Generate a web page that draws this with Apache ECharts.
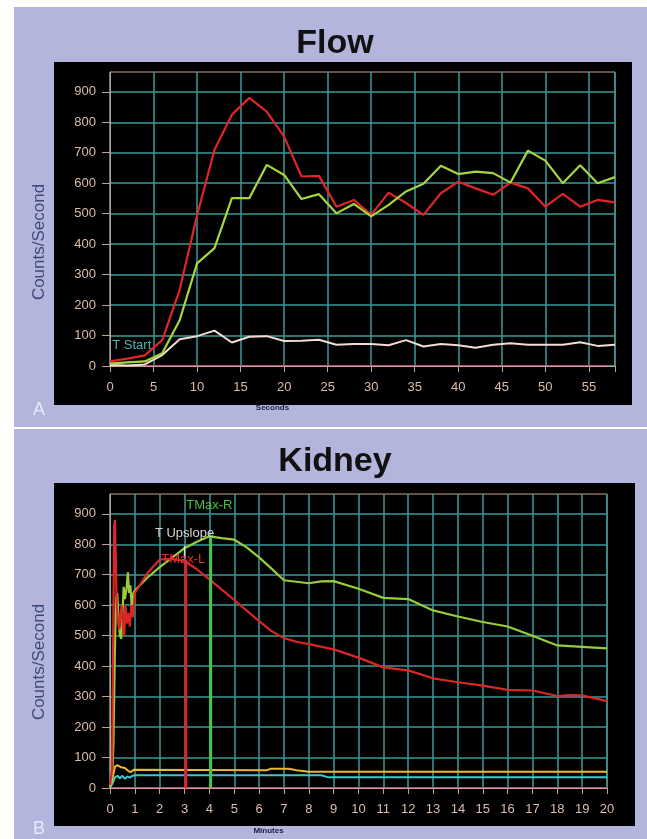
<!DOCTYPE html>
<html>
<head>
<meta charset="utf-8">
<script src="https://cdn.jsdelivr.net/npm/echarts@6/dist/echarts.min.js"></script>
<style>
  html, body { margin: 0; padding: 0; background: #ffffff; }
  #chart { width: 647px; height: 839px; }
</style>
</head>
<body>
<div id="chart"></div>
<script>
// ---------- Flow panel data (seconds) ----------
const flowSeconds = [0,2,4,6,8,10,12,14,16,18,20,22,24,26,28,30,32,34,36,38,40,42,44,46,48,50,52,54,56,58];
const flowRed   = [15,24,35,85,250,495,710,825,880,835,753,622,624,523,545,496,569,535,496,567,605,583,562,602,583,523,565,523,545,537];
const flowGreen = [8,12,15,42,150,337,387,551,551,660,627,548,564,501,532,491,529,573,598,657,630,638,633,602,707,674,600,659,600,620];
const flowWhite = [3,2,5,36,88,98,116,77,96,98,82,83,86,70,72,72,68,85,64,72,68,60,70,75,70,70,70,78,66,70];
const flowXTickStep = 5;
const tStart = [0.2, 69];

// ---------- Kidney panel data (minutes) ----------
const kidneyRed = [[0,10],[0.08,60],[0.13,500],[0.17,860],[0.2,880],[0.23,760],[0.27,600],[0.32,550],[0.37,520],[0.42,570],[0.47,600],[0.52,530],[0.57,500],[0.62,600],[0.68,540],[0.74,575],[0.8,530],[0.86,600],[0.92,560],[1.0,640],[1.5,705],[2,750],[2.5,752],[3,745],[3.5,718],[4,685],[5,617],[6,548],[6.5,515],[7,492],[7.5,480],[8,472],[9,455],[10,428],[11,396],[12,386],[13,360],[14,347],[15,336],[16,322],[17,320],[18,302],[18.5,305],[19,304],[20,285]];
const kidneyGreen = [[0,8],[0.08,20],[0.14,150],[0.19,420],[0.24,620],[0.29,640],[0.34,560],[0.4,500],[0.45,490],[0.5,570],[0.55,660],[0.6,620],[0.66,650],[0.72,708],[0.77,640],[0.82,665],[0.88,585],[0.94,640],[1.0,648],[1.5,690],[2,725],[2.5,756],[3,787],[3.5,808],[4,826],[4.5,820],[5,815],[5.5,790],[6,757],[6.5,720],[7,682],[7.5,677],[8,672],[8.5,678],[9,679],[10,654],[11,624],[12,620],[13,583],[14,563],[15,545],[16,530],[17,500],[18,468],[19,463],[20,458]];
const kidneyYellow = [[0,5],[0.1,30],[0.2,70],[0.3,75],[0.45,68],[0.6,66],[0.75,55],[0.85,52],[0.95,60],[1.0,58],[6.3,58],[6.45,63],[7.2,63],[7.5,58],[8.0,53],[20,53]];
const kidneyCyan = [[0,0],[0.1,15],[0.2,35],[0.3,40],[0.4,32],[0.5,40],[0.6,30],[0.7,38],[0.8,34],[0.9,40],[1.0,42],[8.5,42],[8.8,35],[20,35]];
const tMaxL = 3.05, tMaxLValue = 748;
const tMaxR = 4.05, tMaxRValue = 826;
const tUpslope = 3.0;
const tMaxRLabel = [4.0, 926];
const tUpslopeLabel = [3.0, 836];
const tMaxLLabel = [2.95, 750];

const yTicks = [0,100,200,300,400,500,600,700,800,900];

// ---------- styling ----------
const FONT = '"Liberation Sans", Arial, sans-serif';
const BORDER = '#c9a192';
const LABEL = '#dbbcad';
const GRIDC = '#3b9a9a';
const LAV = '#b3b5dc';

function pairs(xs, ys) { return xs.map((x, i) => [x, ys[i]]); }

function xAxis(gi, max, interval, name, nameGap) {
  return {
    type: 'value', gridIndex: gi, min: 0, max: max, interval: interval,
    name: name, nameLocation: 'middle', nameGap: nameGap,
    nameTextStyle: { fontSize: 8, fontFamily: FONT, color: '#1c1c44', fontWeight: 'bold', padding: [0, 180, 0, 0] },
    axisLine: { show: true, onZero: false, lineStyle: { color: BORDER, width: 1 } },
    axisTick: { show: true, length: 6, interval: 0, lineStyle: { color: BORDER, width: 1 } },
    axisLabel: { color: LABEL, fontSize: 13, fontFamily: FONT, margin: 15, interval: 0,
                 showMaxLabel: true, hideOverlap: false,
                 formatter: v => (Math.abs(v % interval) < 1e-9 ? String(v) : '') },
    splitLine: { show: true, interval: 0, lineStyle: { color: GRIDC, width: 1.5 } }
  };
}
function yAxis(gi, shift) {
  return {
    type: 'value', gridIndex: gi, min: 0, max: 965, interval: 100,
    name: 'Counts/Second', nameLocation: 'middle', nameGap: 62, nameRotate: 90,
    nameTextStyle: { fontSize: 17, fontFamily: FONT, color: '#3d4a7d', padding: [0, shift, 0, 0] },
    axisLine: { show: true, lineStyle: { color: BORDER, width: 1 } },
    axisTick: { show: true, length: 8, lineStyle: { color: BORDER, width: 1 }, customValues: yTicks },
    axisLabel: { color: LABEL, fontSize: 13, fontFamily: FONT, margin: 14, customValues: yTicks },
    splitLine: { show: true, interval: 0, lineStyle: { color: GRIDC, width: 1.5 } }
  };
}
function line(name, gi, data, color, width, extra) {
  return Object.assign({
    name: name, type: 'line', xAxisIndex: gi, yAxisIndex: gi, data: data,
    symbol: 'none', showSymbol: false, smooth: false,
    lineStyle: { color: color, width: width }, itemStyle: { color: color },
    animation: false, silent: true
  }, extra || {});
}
function textPoint(coord, text, color, position) {
  return {
    coord: coord, symbol: 'rect', symbolSize: 1,
    itemStyle: { color: 'rgba(0,0,0,0)' },
    label: { show: true, position: position || 'inside', distance: 0, formatter: text,
             color: color, fontSize: 13, fontFamily: FONT }
  };
}

const chart = echarts.init(document.getElementById('chart'), null, { renderer: 'canvas' });
chart.setOption({
  backgroundColor: '#ffffff',
  animation: false,
  graphic: [
    { type: 'rect', z: -100, shape: { x: 14, y: 7, width: 633, height: 420 }, style: { fill: LAV } },
    { type: 'rect', z: -100, shape: { x: 14, y: 429, width: 633, height: 410 }, style: { fill: LAV } },
    { type: 'rect', z: -99, shape: { x: 54, y: 62, width: 578, height: 343 }, style: { fill: '#000000' } },
    { type: 'rect', z: -99, shape: { x: 54, y: 483, width: 581, height: 343 }, style: { fill: '#000000' } }
  ],
  title: [
    { text: 'Flow', left: 330, top: 22, textAlign: 'center',
      textStyle: { fontSize: 34, fontWeight: 'bold', fontFamily: FONT, color: '#111111' } },
    { text: 'Kidney', left: 330, top: 440, textAlign: 'center',
      textStyle: { fontSize: 34, fontWeight: 'bold', fontFamily: FONT, color: '#111111' } },
    { text: 'A', left: 28, top: 396, textStyle: { fontSize: 18, fontWeight: 'normal', fontFamily: FONT, color: '#e8e8f6' } },
    { text: 'B', left: 28, top: 815, textStyle: { fontSize: 18, fontWeight: 'normal', fontFamily: FONT, color: '#e8e8f6' } }
  ],
  grid: [
    { left: 110, top: 72, width: 505, height: 294, show: true, borderColor: BORDER, borderWidth: 1,
      backgroundColor: 'transparent', containLabel: false, outerBoundsMode: 'none' },
    { left: 110, top: 494, width: 497, height: 294, show: true, borderColor: BORDER, borderWidth: 1,
      backgroundColor: 'transparent', containLabel: false, outerBoundsMode: 'none' }
  ],
  xAxis: [
    xAxis(0, 58, flowXTickStep, 'Seconds', 38),
    xAxis(1, 20, 1, 'Minutes', 39)
  ],
  yAxis: [ yAxis(0, 46), yAxis(1, 42) ],
  series: [
    line('Flow baseline', 0, pairs(flowSeconds, flowWhite), '#f2dcd4', 2, {
      markPoint: { silent: true, animation: false, data: [ textPoint(tStart, 'T Start', '#4fb4b4', 'right') ] }
    }),
    line('Flow red', 0, pairs(flowSeconds, flowRed), '#e0252a', 2.2),
    line('Flow green', 0, pairs(flowSeconds, flowGreen), '#a6d63c', 2.2),

    line('Kidney cyan', 1, kidneyCyan, '#40c6c6', 2),
    line('Kidney yellow', 1, kidneyYellow, '#e8b82e', 2),
    line('Kidney green', 1, kidneyGreen, '#98cc3a', 2.2),
    line('Kidney red', 1, kidneyRed, '#dc2626', 2.2),
    line('T Upslope', 1, [[tUpslope, 755], [tUpslope, 795]], '#e0d8d4', 1.5, {
      markPoint: { silent: true, animation: false, data: [ textPoint(tUpslopeLabel, 'T Upslope', '#dcd4d0') ] }
    }),
    line('TMax-L', 1, [[tMaxL, 0], [tMaxL, tMaxLValue]], '#d82424', 3, {
      markPoint: { silent: true, animation: false, data: [ textPoint(tMaxLLabel, 'TMax-L', '#e03030') ] }
    }),
    line('TMax-R', 1, [[tMaxR, 0], [tMaxR, tMaxRValue]], '#44c83e', 3, {
      markPoint: { silent: true, animation: false, data: [ textPoint(tMaxRLabel, 'TMax-R', '#44c040') ] }
    })
  ]
});
</script>
</body>
</html>
